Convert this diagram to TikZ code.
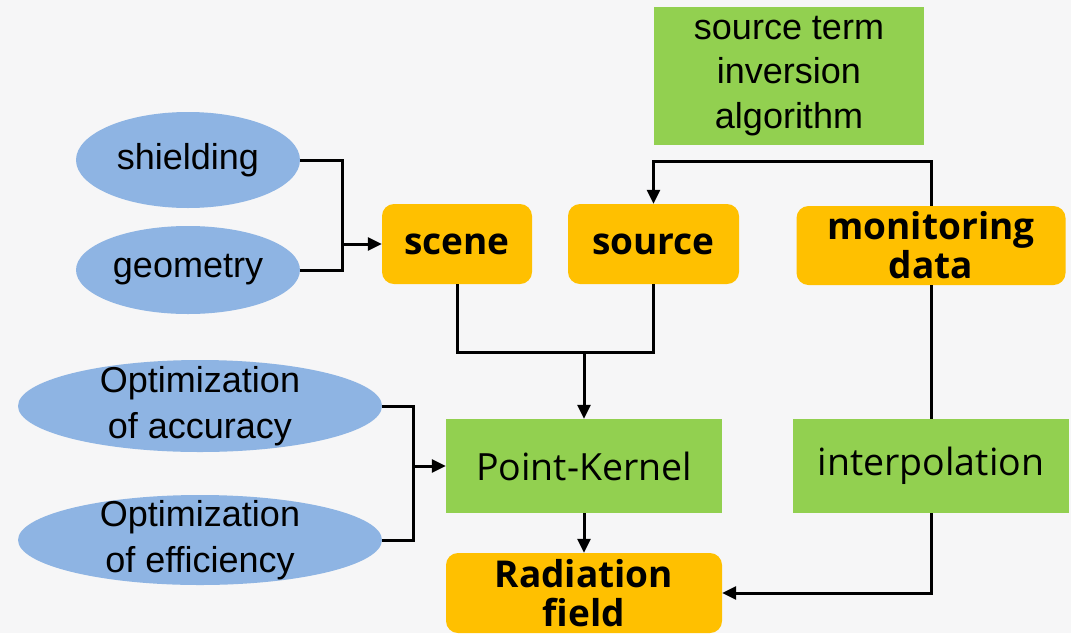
\documentclass[tikz,border=0pt]{standalone}
\usepackage{fontspec}
\setmainfont{Open Sans}
\newfontfamily\arialfont{Liberation Sans}
\usepackage{tikz}
\usetikzlibrary{arrows.meta,positioning,shapes.geometric}
\definecolor{boxgreen}{RGB}{146,208,80}
\definecolor{boxorange}{RGB}{255,192,0}
\definecolor{ovalblue}{RGB}{142,180,227}
\definecolor{bggray}{RGB}{246,246,247}

\begin{document}
\begin{tikzpicture}[x=1pt, y=-1pt,
        greenbox/.style={rectangle, fill=boxgreen, align=center, inner sep=0pt, font=\fontsize{37.5}{45}\selectfont},
        orangebox/.style={rectangle, rounded corners=12pt, fill=boxorange, align=center, inner sep=0pt, font=\bfseries\fontsize{37}{39}\selectfont},
        blueoval/.style={ellipse, fill=ovalblue, inner sep=0pt},
        ovaltext/.style={align=center, inner sep=0pt, font=\arialfont\fontsize{36}{46}\selectfont},
        link/.style={line width=3pt},
        arr/.style={link, -{Triangle[length=14pt, width=13pt]}}]
        \clip (0,0) rectangle (1071,633);
        \fill[bggray] (0,0) rectangle (1071,633);

        % boxes
        \node (algo) [greenbox, minimum width=270pt, minimum height=138pt, font=\arialfont\fontsize{36}{44.5}\selectfont] at (789,76) {source term\\inversion\\algorithm};
        \node (scene) [orangebox, minimum width=150pt, minimum height=80pt] at (457,244) {scene};
        \node (source) [orangebox, minimum width=171pt, minimum height=80pt] at (653.5,244) {source};
        \node (monitor) [orangebox, minimum width=269pt, minimum height=79pt] at (931,245.5) {monitoring\\data};
        \node (kernel) [greenbox, minimum width=276pt, minimum height=94pt] at (584,466) {Point-Kernel};
        \node (interp) [greenbox, minimum width=276pt, minimum height=94pt] at (931,466) {interpolation};
        \node (rad) [orangebox, minimum width=276pt, minimum height=80pt] at (584,593) {Radiation\\field};

        % ovals
        \def\wsmall{224pt}
        \def\wbig{364pt}
        \node (shield) [blueoval, minimum width=\wsmall, minimum height=96pt] at (188,160) {};
        \node[ovaltext] at (shield) {shielding};
        \node (geom) [blueoval, minimum width=\wsmall, minimum height=88pt] at (188,270) {};
        \node[ovaltext] at (geom) {geometry};
        \node (acc) [blueoval, minimum width=\wbig, minimum height=92pt] at (200,406) {};
        \node[ovaltext] at (acc) {Optimization\\of accuracy};
        \node (eff) [blueoval, minimum width=\wbig, minimum height=90pt] at (200,540) {};
        \node[ovaltext] at (eff) {Optimization\\of efficiency};

        % connectors
        \coordinate (j1) at (342,244);
        \coordinate (j2) at (584,352);
        \coordinate (j3) at (413,466);

        \draw[link] (shield.east) -| (j1) |- (geom.east);
        \draw[arr] (j1) -- (scene.west);
        \draw[link] (scene.south) |- (j2) -| (source.south);
        \draw[arr] (j2) -- (kernel.north);
        \draw[link] (acc.east) -| (j3) |- (eff.east);
        \draw[arr] (j3) -- (kernel.west);
        \draw[arr] (kernel.south) -- (rad.north);
        \draw[link] (monitor.south) -- (interp.north);
        \draw[arr] (interp.south) |- (rad.east);
        \draw[arr] (monitor.north) -- ++(0,-44) -| (source.north);
    \end{tikzpicture}
\end{document}
